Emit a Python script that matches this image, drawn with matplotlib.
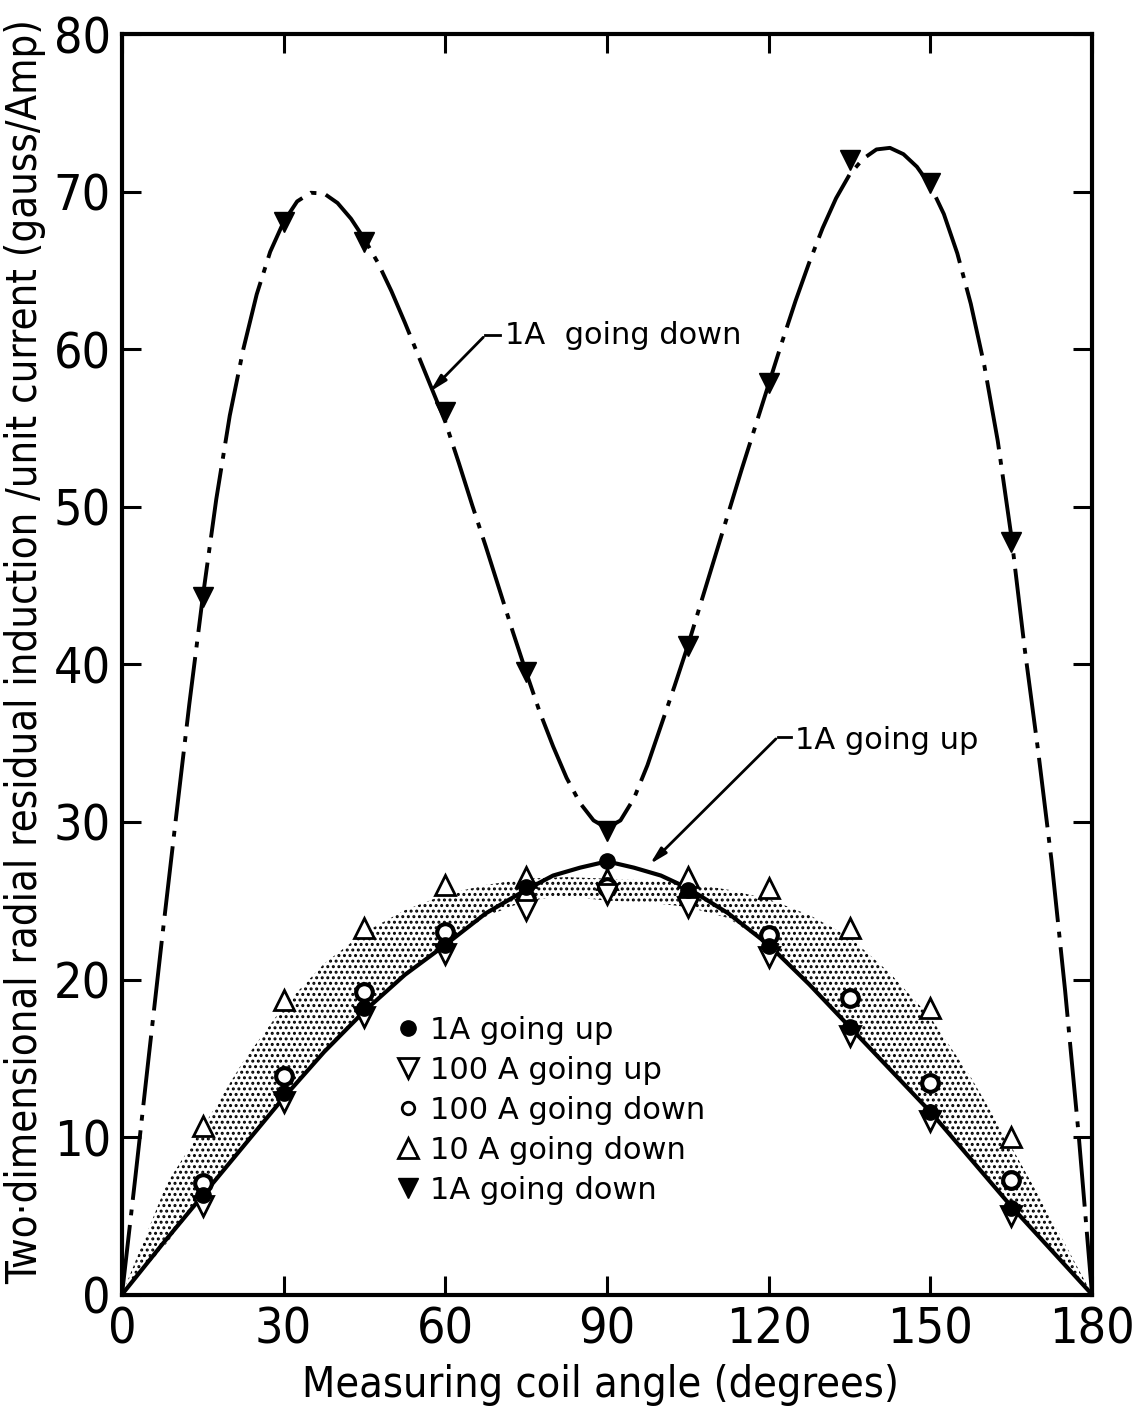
import matplotlib.pyplot as plt
from matplotlib.lines import Line2D

plt.rcParams['font.family'] = ['DejaVu Sans']
plt.rcParams['font.stretch'] = 'condensed'
plt.rcParams['hatch.linewidth'] = 1.4
plt.rcParams['hatch.color'] = 'black'

# measuring angles of the data points (degrees)
angles = [15, 30, 45, 60, 75, 90, 105, 120, 135, 150, 165]

# (gauss/Amp)
up_1A = [6.3, 12.8, 18.2, 22.2, 25.9, 27.5, 25.7, 22.1, 17.0, 11.6, 5.5]
up_100A = [5.6, 12.2, 17.6, 21.6, 24.4, 25.4, 24.6, 21.4, 16.4, 11.0, 5.0]
down_100A = [7.1, 13.9, 19.2, 23.0, 25.1, 25.9, 25.2, 22.8, 18.8, 13.4, 7.3]
down_10A = [10.7, 18.7, 23.3, 26.0, 26.5, 26.4, 26.5, 25.8, 23.3, 18.2, 10.0]
down_1A = [44.3, 68.1, 66.8, 56.0, 39.5, 29.4, 41.2, 57.9, 72.0, 70.6, 47.8]

# hand drawn curve through the 1A going down points (read every 2.5 deg)
down_curve_x = [0, 2.5, 5, 7.5, 10, 12.5, 15, 17.5, 20, 22.5, 25, 27.5, 30, 32.5, 35,
                37.5, 40, 42.5, 45, 47.5, 50, 52.5, 55, 57.5, 60, 62.5, 65, 67.5, 70,
                72.5, 75, 77.5, 80, 82.5, 85, 87.5, 90, 92.5, 95, 97.5, 100, 102.5,
                105, 107.5, 110, 112.5, 115, 117.5, 120, 122.5, 125, 127.5, 130, 132.5,
                135, 137.5, 140, 142.5, 145, 147.5, 150, 152.5, 155, 157.5, 160, 162.5,
                165, 167.5, 170, 172.5, 175, 177.5, 180]
down_curve_y = [0, 7.5, 15.2, 22.8, 30.2, 37.5, 44.3, 50.5, 55.8, 60.0, 63.5, 66.2,
                68.1, 69.4, 69.95, 69.9, 69.3, 68.3, 67.0, 65.5, 63.7, 61.7, 59.6,
                57.5, 55.4, 52.8, 50.1, 47.5, 44.8, 42.1, 39.5, 37.0, 34.8, 32.8, 31.2,
                30.1, 29.6, 30.1, 31.5, 33.6, 36.1, 38.6, 41.2, 44.0, 46.8, 49.6, 52.4,
                55.1, 57.8, 60.5, 63.1, 65.5, 67.7, 69.6, 71.1, 72.1, 72.7, 72.8, 72.4,
                71.6, 70.4, 68.6, 66.1, 62.9, 59.0, 54.2, 48.2, 41.0, 34.5, 27.5, 19.3,
                10.2, 0]

# solid curve through the 1A going up points
up_curve_x = [0, 7.5, 15, 22.5, 30, 37.5, 45, 52.5, 60, 67.5, 75, 80, 85, 90, 95, 100,
              105, 112.5, 120, 127.5, 135, 142.5, 150, 157.5, 165, 172.5, 180]
up_curve_y = [0, 3.2, 6.3, 9.4, 12.5, 15.4, 18.0, 20.3, 22.2, 24.2, 25.7, 26.6, 27.1,
              27.5, 27.1, 26.6, 25.8, 24.2, 22.2, 19.7, 17.0, 14.3, 11.6, 8.6, 5.6,
              2.8, 0]

# stippled band
band_x = [0, 8.4, 15, 22.5, 30, 37.5, 45, 52.5, 60, 67.5, 75, 82.5, 90, 97.5, 105,
          112.5, 120, 127.5, 135, 142.5, 150, 157.5, 165, 172.5, 180]
band_top = [0, 7.1, 10.6, 14.8, 18.3, 21.0, 23.0, 24.4, 25.4, 26.0, 26.4, 26.5, 26.4,
            26.3, 26.1, 25.7, 25.1, 24.1, 22.7, 20.4, 17.6, 13.8, 9.4, 4.8, 0]
band_bottom = [0, 3.3, 6.3, 9.4, 12.5, 15.4, 18.0, 20.3, 22.2, 24.0, 25.0, 25.3, 25.0,
               24.9, 24.6, 23.9, 22.2, 19.7, 17.0, 14.3, 11.6, 8.6, 5.6, 2.8, 0]

fig = plt.figure(figsize=(11.41, 14.12), dpi=100)
ax = fig.add_axes([0.1069, 0.0832, 0.8502, 0.8924])

ax.fill_between(band_x, band_bottom, band_top, facecolor='none', edgecolor='black',
                hatch='...', linewidth=0)

ax.plot(down_curve_x, down_curve_y, color='black', lw=2.8,
        linestyle=(0, (18, 2.5, 1.5, 2.5)))
ax.plot(up_curve_x, up_curve_y, color='black', lw=3)

ax.plot(angles, down_10A, '^', ms=14, mfc='white', mec='black', mew=2)
ax.plot(angles, down_100A, 'o', ms=12, mfc='white', mec='black', mew=3)
ax.plot(angles, up_100A, 'v', ms=14, mfc='white', mec='black', mew=2)
ax.plot(angles, up_1A, 'o', ms=11, color='black')
ax.plot(angles, down_1A, 'v', ms=15, color='black')

# labels with leader arrows
txt_font = dict(family='DejaVu Sans', stretch='normal', fontsize=22)
ax.plot([67.4, 70.2], [60.9, 60.9], color='black', lw=2)
ax.annotate('', xy=(56.8, 57.2), xytext=(67.4, 60.9),
            arrowprops=dict(arrowstyle='-|>,head_length=1.0,head_width=0.25',
                            color='black', lw=2))
ax.text(71, 60.9, '1A  going down', va='center', ha='left', **txt_font)

ax.plot([121.7, 124.2], [35.4, 35.4], color='black', lw=2)
ax.annotate('', xy=(97.6, 27.2), xytext=(121.7, 35.4),
            arrowprops=dict(arrowstyle='-|>,head_length=1.0,head_width=0.25',
                            color='black', lw=2))
ax.text(124.8, 35.2, '1A going up', va='center', ha='left', **txt_font)

handles = [
    Line2D([], [], ls='none', marker='o', ms=11, color='black'),
    Line2D([], [], ls='none', marker='v', ms=14, mfc='white', mec='black', mew=2),
    Line2D([], [], ls='none', marker='o', ms=9, mfc='white', mec='black', mew=2),
    Line2D([], [], ls='none', marker='^', ms=14, mfc='white', mec='black', mew=2),
    Line2D([], [], ls='none', marker='v', ms=15, color='black'),
]
labels = ['1A going up', '100 A going up', '100 A going down', '10 A going down',
          '1A going down']
ax.legend(handles, labels, loc='upper left', bbox_to_anchor=(0.2825, 0.221),
          frameon=False, borderpad=0, borderaxespad=0, handlelength=0.8,
          handletextpad=0.3, labelspacing=0.36,
          prop=dict(family='DejaVu Sans', stretch='normal', size=22))

ax.set_xlim(0, 180)
ax.set_ylim(0, 80)
ax.set_xticks(range(0, 181, 30))
ax.set_yticks(range(0, 81, 10))
ax.tick_params(direction='in', length=14, width=2.2, top=True, right=True,
               labelsize=36, pad=8)
for s in ax.spines.values():
    s.set_linewidth(3)

ax.set_xlabel('Measuring coil angle (degrees)', fontsize=31)
ax.xaxis.set_label_coords(0.493, -0.055)
ax.set_ylabel('Two\u00b7dimensional radial residual induction /unit current (gauss/Amp)',
              fontsize=30)
ax.yaxis.set_label_coords(-0.078, 0.51)

fig.savefig('out.png', dpi=100)
